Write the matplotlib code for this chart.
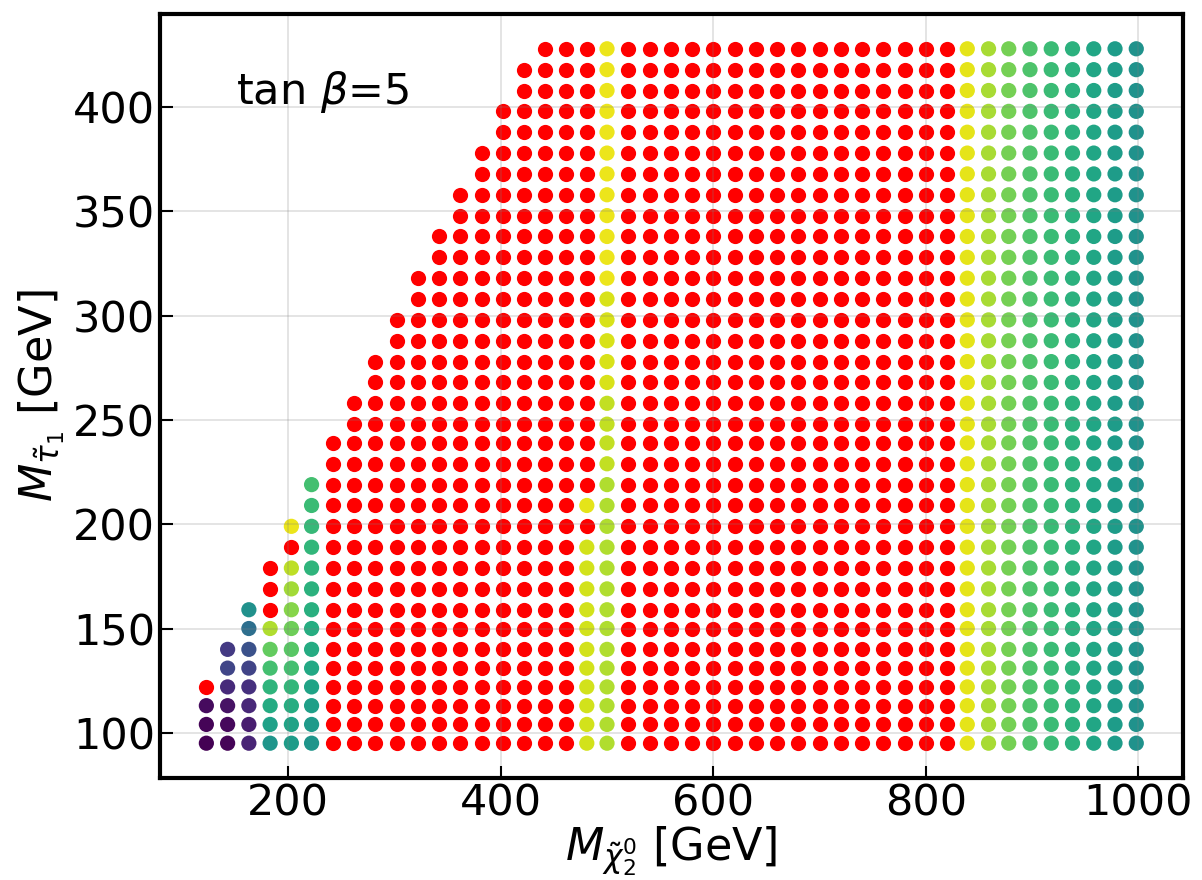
import numpy as np
import matplotlib.pyplot as plt

# grid of scan points (GeV)
x_mass = [123, 143, 163, 183, 203, 222, 242, 262, 282, 302, 322, 342, 362, 382,
          402, 422, 442, 461, 481, 500, 520, 540, 560, 580, 600, 620, 640, 660,
          680, 700, 720, 740, 760, 780, 800, 820, 839, 859, 878, 898, 918, 938,
          958, 978, 998]
y_mass = [95, 104, 113, 122, 131, 140, 150, 159, 169, 179, 189, 199, 209, 219,
          229, 239, 248, 258, 268, 278, 288, 298, 308, 318, 328, 338, 348, 358,
          368, 378, 388, 398, 408, 418, 428]
# number of points in each column (counted from the lowest row)
n_points = [4, 6, 8, 10, 12, 14, 16, 18, 20, 22, 24, 26, 28, 30, 32, 34] + [35] * 29

# colour value (viridis, 0..1) per column, lowest row first; None = red (excluded)
c_123 = [0.00, 0.01, 0.03, None]
c_143 = [0.01, 0.02, 0.05, 0.12, 0.21, 0.17]
c_163 = [0.10, 0.08, 0.11, 0.14, 0.20, 0.25, 0.36, 0.50]
c_183 = [0.52, 0.57, 0.61, 0.65, 0.70, 0.76, 0.88, None, None, None]
c_203 = [0.55, 0.58, 0.62, 0.66, 0.70, 0.74, 0.78, 0.82, 0.86, 0.90, None, 0.97]
c_222 = [0.52, 0.54, 0.56, 0.58, 0.60, 0.61, 0.62, 0.63, 0.64, 0.65, 0.66, 0.67, 0.68, 0.70]
c_481 = [0.93] * 11 + [None, 0.96] + [None] * 22
c_500 = [0.88] * 14 + [0.91] * 4 + [0.94] * 5 + [0.97] * 12
# columns 839 ... 998, same colour over the whole column
c_right = [0.96, 0.87, 0.79, 0.72, 0.68, 0.64, 0.59, 0.55, 0.51]

special = {123: c_123, 143: c_143, 163: c_163, 183: c_183, 203: c_203,
           222: c_222, 481: c_481, 500: c_500}
for xm, cv in zip(x_mass[36:], c_right):
    special[xm] = [cv] * 35

vx, vy, vc = [], [], []
rx, ry = [], []
for xm, n in zip(x_mass, n_points):
    cols = special.get(xm, [None] * n)
    for ym, cv in zip(y_mass[:n], cols):
        if cv is None:
            rx.append(xm)
            ry.append(ym)
        else:
            vx.append(xm)
            vy.append(ym)
            vc.append(cv)

fig = plt.figure(figsize=(12.02, 8.8), dpi=100)
ax = fig.add_axes([0.133, 0.116, 0.851, 0.868])

ax.scatter(rx, ry, s=120, color='red', linewidths=0)
ax.scatter(vx, vy, s=120, c=vc, cmap='viridis', vmin=0, vmax=1, linewidths=0)

ax.grid(color='0.5', alpha=0.25, linewidth=1.2)
ax.tick_params(direction='in', length=9, width=1.5, labelsize=31)
for sp in ax.spines.values():
    sp.set_linewidth(3)

ax.set_xticks([200, 400, 600, 800, 1000])
ax.set_yticks([100, 150, 200, 250, 300, 350, 400])
ax.set_xlabel(r'$M_{\tilde{\chi}_2^0}$ [GeV]', fontsize=32, labelpad=0)
ax.set_ylabel(r'$M_{\tilde{\tau}_1}$ [GeV]', fontsize=32, labelpad=4)
ax.text(0.074, 0.898, r'tan $\beta$=5', transform=ax.transAxes,
        fontsize=31, va='center')

fig.savefig('out.png', dpi=100)
